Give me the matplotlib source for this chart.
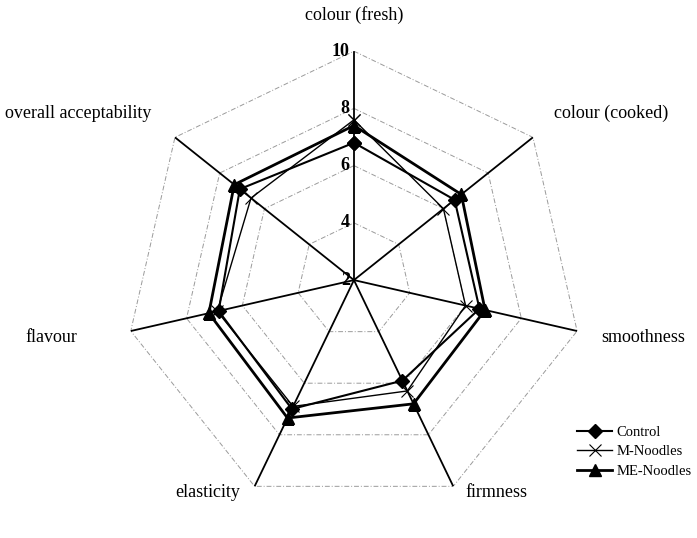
import numpy as np
import matplotlib
matplotlib.use("Agg")
import matplotlib.pyplot as plt

categories = ["colour (fresh)", "colour (cooked)", "smoothness", "firmness",
              "elasticity", "flavour", "overall acceptability"]
control = [6.8, 6.5, 6.5, 5.9, 7.0, 6.85, 7.1]
m_noodles = [7.6, 6.0, 6.0, 6.3, 6.9, 6.9, 6.6]
me_noodles = [7.4, 6.8, 6.7, 6.8, 7.35, 7.2, 7.35]
r_ticks = [2, 4, 6, 8, 10]
r_tick_labels = ["2", "4", "6", "8", "10"]

plt.rcParams['font.family'] = ['Liberation Serif', 'DejaVu Serif']

fig = plt.figure(figsize=(6.97, 5.38), dpi=100)
ax = fig.add_axes([0.1793, 0.0539, 0.657, 0.851], projection='polar')
ax.set_theta_zero_location('N')
ax.set_theta_direction(-1)
ax.set_ylim(2, 10)
ax.grid(False)
ax.spines['polar'].set_visible(False)
ax.set_xticks([])
ax.set_yticks([])
ax.patch.set_alpha(0)

n = len(categories)
theta = np.arange(n) * 2 * np.pi / n
theta_c = np.append(theta, theta[0])

# polygon grid
for lv in r_ticks[1:]:
    ax.plot(theta_c, [lv] * (n + 1), color='#9a9a9a', lw=0.7,
            linestyle=(0, (5, 2, 1, 2)), zorder=1)
# spokes
for t in theta:
    ax.plot([t, t], [2, 10], color='black', lw=1.3, zorder=2)

# tick labels
for v, lab in zip(r_ticks, r_tick_labels):
    ax.annotate(lab, xy=(0, v), xytext=(-3, 0), textcoords='offset points',
                ha='right', va='center', fontsize=13, fontweight='bold')

def closed(v):
    return list(v) + [v[0]]

ax.plot(theta_c, closed(control), color='black', lw=1.5, marker='D',
        markersize=7, label='Control', zorder=4)
ax.plot(theta_c, closed(m_noodles), color='black', lw=1.0, marker='x',
        markersize=9, markeredgewidth=0.8, label='M-Noodles', zorder=3)
ax.plot(theta_c, closed(me_noodles), color='black', lw=2.0, marker='^',
        markersize=8, label='ME-Noodles', zorder=5)

# category labels (pixel offsets from outer vertices)
offsets = [(0, 36), (78, 24), (66, -6), (43, -6), (-47, -6), (-79, -6), (-97, 24)]
for t, lab, (dx, dy) in zip(theta, categories, offsets):
    ax.annotate(lab, xy=(t, 10), xytext=(dx * 0.72, dy * 0.72),
                textcoords='offset points', ha='center', va='center',
                fontsize=13, annotation_clip=False)

leg = fig.legend(loc='upper left', bbox_to_anchor=(0.818, 0.222), frameon=False,
                 fontsize=10.5, handlelength=2.4, handletextpad=0.3,
                 labelspacing=0.42, borderpad=0)

fig.savefig('out.png', dpi=100)
